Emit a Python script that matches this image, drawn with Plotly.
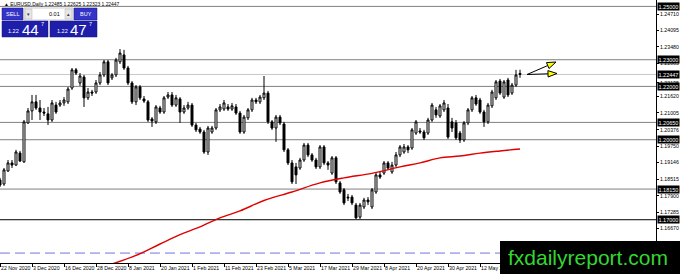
import plotly.graph_objects as go

# ---------------- data ----------------
bar_index = list(range(131))
opens = [1.1849,1.1834,1.1883,1.1913,1.1905,1.1950,1.1917,1.2063,1.2108,1.2142,
         1.2119,1.2104,1.2097,1.2074,1.2130,1.2130,1.2138,1.2142,1.2194,1.2262,
         1.2213,1.2235,1.2157,1.2179,1.2179,1.2213,1.2243,1.2292,1.2232,1.2243,
         1.2292,1.2318,1.2269,1.2213,1.2142,1.2198,1.2153,1.2142,1.2078,1.2067,
         1.2119,1.2104,1.2160,1.2168,1.2130,1.2153,1.2104,1.2119,1.2130,1.2055,
         1.2040,1.2029,1.1954,1.2029,1.2044,1.2112,1.2115,1.2123,1.2115,1.2123,
         1.2100,1.2029,1.2082,1.2112,1.2149,1.2142,1.2157,1.2175,1.2067,1.2044,
         1.2085,1.2059,1.1962,1.1913,1.1898,1.1894,1.1924,1.1980,1.1943,1.1924,
         1.1898,1.1973,1.1913,1.1875,1.1932,1.1838,1.1812,1.1785,1.1785,1.1755,
         1.1710,1.1748,1.1774,1.1748,1.1804,1.1868,1.1875,1.1913,1.1879,1.1905,
         1.1943,1.1954,1.1973,1.1969,1.2025,1.2033,1.2029,1.2025,1.2074,1.2112,
         1.2089,1.2112,1.2119,1.2067,1.2063,1.2025,1.1999,1.2063,1.2112,1.2157,
         1.2149,1.2104,1.2067,1.2127,1.2157,1.2220,1.2160,1.2224,1.2175,1.2205,
         1.22485]
highs = [1.1857,1.1894,1.1924,1.1924,1.1962,1.1958,1.2074,1.2119,1.2168,1.2168,
         1.2149,1.2119,1.2123,1.2149,1.2142,1.2149,1.2160,1.2198,1.2269,1.2269,
         1.2250,1.2243,1.2194,1.2187,1.2224,1.2254,1.2299,1.2299,1.2250,1.2307,
         1.2340,1.2337,1.2277,1.2220,1.2205,1.2205,1.2164,1.2149,1.2085,1.2130,
         1.2127,1.2164,1.2179,1.2179,1.2168,1.2160,1.2130,1.2142,1.2138,1.2063,
         1.2048,1.2037,1.2052,1.2052,1.2119,1.2134,1.2149,1.2134,1.2138,1.2134,
         1.2108,1.2093,1.2119,1.2157,1.2157,1.2168,1.2239,1.2183,1.2074,1.2093,
         1.2093,1.2067,1.1969,1.1924,1.1913,1.1932,1.1988,1.1988,1.1950,1.1932,
         1.1980,1.1980,1.1920,1.1939,1.1939,1.1845,1.1819,1.1797,1.1793,1.1763,
         1.1763,1.1782,1.1785,1.1819,1.1875,1.1879,1.1920,1.1920,1.1917,1.1954,
         1.1980,1.1984,1.1980,1.2044,1.2074,1.2044,1.2037,1.2082,1.2138,1.2123,
         1.2134,1.2149,1.2134,1.2082,1.2074,1.2033,1.2070,1.2119,1.2164,1.2168,
         1.2157,1.2112,1.2138,1.2187,1.2224,1.2228,1.2224,1.2232,1.2213,1.2262,
         1.22625]
lows = [1.1823,1.1827,1.1879,1.1894,1.1902,1.1917,1.1913,1.2059,1.2074,1.2112,
        1.2074,1.2089,1.2055,1.2067,1.2097,1.2123,1.2127,1.2134,1.2187,1.2243,
        1.2202,1.2123,1.2149,1.2164,1.2172,1.2205,1.2235,1.2205,1.2224,1.2235,
        1.2284,1.2262,1.2205,1.2134,1.2130,1.2149,1.2138,1.2067,1.2048,1.2059,
        1.2097,1.2097,1.2153,1.2123,1.2123,1.2063,1.2097,1.2112,1.2048,1.2029,
        1.2022,1.1947,1.1943,1.2022,1.2037,1.2104,1.2108,1.2108,1.2108,1.2093,
        1.2022,1.2022,1.2074,1.2104,1.2134,1.2134,1.2149,1.2059,1.2037,1.1992,
        1.2055,1.1954,1.1905,1.1834,1.1834,1.1887,1.1917,1.1935,1.1917,1.1890,
        1.1890,1.1905,1.1887,1.1868,1.1834,1.1797,1.1755,1.1770,1.1755,1.1703,
        1.1703,1.1740,1.1755,1.1740,1.1797,1.1853,1.1868,1.1887,1.1872,1.1898,
        1.1935,1.1947,1.1950,1.1962,1.2018,1.2022,1.1999,1.2018,1.2067,1.2082,
        1.2082,1.2104,1.2003,1.2029,1.1999,1.1988,1.1992,1.2055,1.2104,1.2127,
        1.2097,1.2048,1.2059,1.2119,1.2149,1.2168,1.2153,1.2160,1.2168,1.2198,
        1.22323]
closes = [1.1830,1.1887,1.1913,1.1905,1.1954,1.1920,1.2067,1.2108,1.2142,1.2119,
          1.2104,1.2100,1.2074,1.2138,1.2104,1.2138,1.2149,1.2190,1.2262,1.2250,
          1.2239,1.2157,1.2179,1.2175,1.2213,1.2243,1.2292,1.2213,1.2243,1.2299,
          1.2325,1.2269,1.2213,1.2142,1.2198,1.2157,1.2145,1.2074,1.2070,1.2123,
          1.2104,1.2157,1.2168,1.2130,1.2157,1.2104,1.2119,1.2130,1.2055,1.2037,
          1.2029,1.1954,1.2044,1.2044,1.2112,1.2123,1.2138,1.2115,1.2127,1.2100,
          1.2029,1.2085,1.2112,1.2149,1.2142,1.2160,1.2175,1.2067,1.2044,1.2085,
          1.2063,1.1962,1.1913,1.1842,1.1868,1.1924,1.1980,1.1943,1.1924,1.1898,
          1.1973,1.1913,1.1905,1.1932,1.1842,1.1804,1.1763,1.1782,1.1763,1.1707,
          1.1755,1.1774,1.1767,1.1812,1.1868,1.1860,1.1913,1.1894,1.1905,1.1943,
          1.1973,1.1973,1.1962,1.2037,1.2067,1.2029,1.2007,1.2074,1.2130,1.2093,
          1.2127,1.2138,1.2010,1.2044,1.2007,1.1999,1.2063,1.2112,1.2157,1.2134,
          1.2104,1.2067,1.2130,1.2179,1.2217,1.2175,1.2217,1.2168,1.2205,1.2243,
          1.22447]

ma_index = [28, 34, 40, 45, 50, 55, 60, 66, 73, 80, 86, 93, 100, 105, 110, 115, 120, 125, 130]
ma_values = [1.1534, 1.1566, 1.1609, 1.1644, 1.1673, 1.1707, 1.1733, 1.1772, 1.1804, 1.1838,
             1.1857, 1.1874, 1.1898, 1.1913, 1.1932, 1.1939, 1.1950, 1.1958, 1.1965]

x_tick_index = [0, 8, 16, 24, 32, 40, 48, 56, 64, 72, 80, 88, 96, 104, 112, 120]
x_tick_labels = ["22 Nov 2020", "3 Dec 2020", "16 Dec 2020", "28 Dec 2020", "8 Jan 2021",
                 "20 Jan 2021", "1 Feb 2021", "11 Feb 2021", "23 Feb 2021", "5 Mar 2021",
                 "17 Mar 2021", "29 Mar 2021", "8 Apr 2021", "20 Apr 2021", "30 Apr 2021",
                 "12 May 2021"]
y_tick_values = [1.24710, 1.24095, 1.23480, 1.22865, 1.22135, 1.21620, 1.21005, 1.20376,
                 1.19750, 1.19146, 1.18515, 1.17900, 1.17285, 1.16670]
y_tick_labels = ["1.24710", "1.24095", "1.23480", "1.22865", "1.22135", "1.21620", "1.21005",
                 "1.20376", "1.19750", "1.19146", "1.18515", "1.17900", "1.17285", "1.16670"]

gray_levels = [1.25000, 1.23000, 1.22000, 1.20650, 1.20000, 1.18150]
gray_level_labels = ["1.25000", "1.23000", "1.22000", "1.20650", "1.20000", "1.18150"]
black_level = 1.17000
black_level_label = "1.17000"
bid_level = 1.22447
bid_label = "1.22447"
dashed_level = 1.15750

title_text = "\u25b2 EURUSD,Daily 1.22485 1.22625 1.22323 1.22447"

# ---------------- layout helpers ----------------
W, H = 680, 274
ML, MR, MT, MB = 0, 24, 0, 11
PW, PH = W - ML - MR, H - MT - MB


def px(x):
    return (x - ML) / PW


def py(y):
    return 1 - (y - MT) / PH


FONT = "Liberation Sans, Arial, sans-serif"

fig = go.Figure()

fig.add_trace(go.Candlestick(
    x=bar_index, open=opens, high=highs, low=lows, close=closes,
    increasing=dict(line=dict(color="black", width=1), fillcolor="white"),
    decreasing=dict(line=dict(color="black", width=1), fillcolor="black"),
    whiskerwidth=0, hoverinfo="skip", showlegend=False))

fig.add_trace(go.Scatter(x=ma_index, y=ma_values, mode="lines",
                         line=dict(color="#e00000", width=1.4, shape="spline"),
                         hoverinfo="skip", showlegend=False))

shapes = []
annotations = []

for lv in gray_levels:
    shapes.append(dict(type="line", xref="paper", x0=0, x1=1, yref="y", y0=lv, y1=lv,
                       line=dict(color="#808080", width=1), layer="below"))
shapes.append(dict(type="line", xref="paper", x0=0, x1=1, yref="y", y0=black_level, y1=black_level,
                   line=dict(color="black", width=1), layer="below"))
shapes.append(dict(type="line", xref="paper", x0=0, x1=1, yref="y", y0=bid_level, y1=bid_level,
                   line=dict(color="#c8c8c8", width=1), layer="below"))
shapes.append(dict(type="line", xref="paper", x0=0, x1=1, yref="y", y0=dashed_level, y1=dashed_level,
                   line=dict(color="#7474e0", width=1, dash="10px,5px"), layer="below"))

# boxed price labels on the axis
for lv, lab in list(zip(gray_levels, gray_level_labels)) + [(black_level, black_level_label), (bid_level, bid_label)]:
    annotations.append(dict(xref="paper", x=1, xanchor="left", xshift=1, yref="y", y=lv,
                            yanchor="middle", text=lab, showarrow=False, bgcolor="black",
                            borderpad=0.5, font=dict(family=FONT, size=5.5, color="white")))

# arrows (drawing objects)
def arrow(x0, y0, x1, y1):
    import math
    dxp, dyp = x1 - x0, y1 - y0
    L = math.hypot(dxp, dyp)
    ux, uy = dxp / L, dyp / L
    hl, hw = 9, 3.2
    bx, by = x1 - ux * hl, y1 - uy * hl
    pxl, pyl = -uy * hw, ux * hw
    shapes.append(dict(type="line", xref="paper", yref="paper", x0=px(x0), y0=py(y0),
                       x1=px(bx), y1=py(by), line=dict(color="black", width=1)))
    path = "M {},{} L {},{} L {},{} Z".format(px(x1), py(y1), px(bx + pxl), py(by + pyl),
                                             px(bx - pxl), py(by - pyl))
    shapes.append(dict(type="path", xref="paper", yref="paper", path=path,
                       fillcolor="#ffff00", line=dict(color="black", width=1)))

arrow(527, 74.5, 556, 62)
arrow(527, 74.5, 557, 73.5)

# logo box
shapes.append(dict(type="rect", xref="paper", yref="paper", x0=px(500), x1=px(681),
                   y0=py(241), y1=py(275), fillcolor="black", line=dict(width=0), layer="above"))
annotations.append(dict(xref="paper", yref="paper", x=px(588), y=py(257), text="fxdailyreport.com",
                        showarrow=False, xanchor="center", yanchor="middle",
                        font=dict(family=FONT, size=21, color="#33d633")))

# title
annotations.append(dict(xref="paper", yref="paper", x=px(2), y=py(4), text=title_text,
                        showarrow=False, xanchor="left", yanchor="middle",
                        font=dict(family=FONT, size=4.9, color="black")))

# one-click trading panel
BTN = "#3434c8"
BOX = "#1e1eaa"
shapes += [
    dict(type="rect", xref="paper", yref="paper", x0=px(2), x1=px(23), y0=py(8), y1=py(20),
         fillcolor=BTN, line=dict(color="#15157a", width=0.5)),
    dict(type="rect", xref="paper", yref="paper", x0=px(24), x1=px(73), y0=py(8), y1=py(20),
         fillcolor="white", line=dict(color="#9a9a9a", width=0.5)),
    dict(type="rect", xref="paper", yref="paper", x0=px(25), x1=px(32), y0=py(9), y1=py(19),
         fillcolor="#e6e6e6", line=dict(color="#b0b0b0", width=0.5)),
    dict(type="rect", xref="paper", yref="paper", x0=px(65), x1=px(72), y0=py(9), y1=py(19),
         fillcolor="#e6e6e6", line=dict(color="#b0b0b0", width=0.5)),
    dict(type="rect", xref="paper", yref="paper", x0=px(74), x1=px(97), y0=py(8), y1=py(20),
         fillcolor=BTN, line=dict(color="#15157a", width=0.5)),
    dict(type="rect", xref="paper", yref="paper", x0=px(2), x1=px(48), y0=py(21), y1=py(37),
         fillcolor=BOX, line=dict(color="#15157a", width=0.5)),
    dict(type="rect", xref="paper", yref="paper", x0=px(50), x1=px(97), y0=py(21), y1=py(37),
         fillcolor=BOX, line=dict(color="#15157a", width=0.5)),
]


def ptext(x, y, t, size, color="white", anchor="left"):
    annotations.append(dict(xref="paper", yref="paper", x=px(x), y=py(y), text=t, showarrow=False,
                            xanchor=anchor, yanchor="middle",
                            font=dict(family=FONT, size=size, color=color)))


ptext(12.5, 14, "SELL", 5.5, anchor="center")
ptext(85.5, 14, "BUY", 5.5, anchor="center")
ptext(28.5, 14, "\u25be", 5, color="#333333", anchor="center")
ptext(68.5, 14, "\u25b4", 5, color="#333333", anchor="center")
ptext(62, 14, "0.01", 5.5, color="black", anchor="right")
ptext(6, 31.5, "1.22", 5.5)
ptext(20, 29.5, "44", 15)
ptext(38.5, 24.5, "7", 5.5)
ptext(55, 31.5, "1.22", 5.5)
ptext(68, 29.5, "47", 15)
ptext(86.5, 24.5, "7", 5.5)

fig.update_layout(
    width=W, height=H, margin=dict(l=ML, r=MR, t=MT, b=MB, autoexpand=False),
    paper_bgcolor="white", plot_bgcolor="white",
    shapes=shapes, annotations=annotations, showlegend=False,
    font=dict(family=FONT, size=5.5, color="black"),
    xaxis=dict(range=[0, 164], tickmode="array", tickvals=x_tick_index,
               ticktext=x_tick_labels, ticks="outside", ticklen=3, tickcolor="black",
               ticklabelposition="outside right", tickfont=dict(size=5.2), tickangle=0,
               automargin=False, showgrid=False, zeroline=False, showline=True,
               linecolor="black", linewidth=1, rangeslider=dict(visible=False)),
    yaxis=dict(range=[1.153775, 1.2524], side="right", tickmode="array",
               tickvals=y_tick_values, ticktext=y_tick_labels, ticks="outside", ticklen=2,
               tickcolor="black", tickfont=dict(size=5.2), automargin=False, showgrid=False,
               zeroline=False, showline=True, linecolor="black", linewidth=1),
)

fig.write_html("out.html")
